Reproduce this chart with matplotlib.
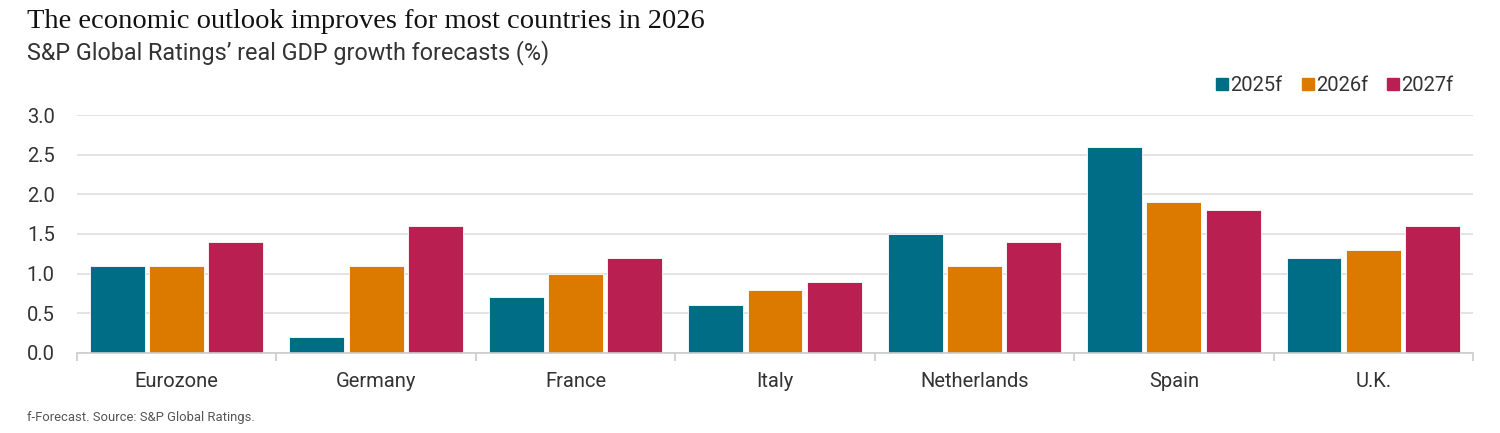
import numpy as np
import matplotlib
matplotlib.use('Agg')
import matplotlib.pyplot as plt
from matplotlib.lines import Line2D

# data
countries = ['Eurozone', 'Germany', 'France', 'Italy', 'Netherlands', 'Spain', 'U.K.']
f2025 = [1.1, 0.2, 0.7, 0.6, 1.5, 2.6, 1.2]
f2026 = [1.1, 1.1, 1.0, 0.8, 1.1, 1.9, 1.3]
f2027 = [1.4, 1.6, 1.2, 0.9, 1.4, 1.8, 1.6]
series_labels = ['2025f', '2026f', '2027f']
yticks = [0.0, 0.5, 1.0, 1.5, 2.0, 2.5, 3.0]

COLORS = ['#006D87', '#DC7A00', '#B91F50']
TEXT = '#333333'

plt.rcParams['font.family'] = ['Roboto', 'DejaVu Sans']

fig = plt.figure(figsize=(15, 4.33), dpi=100)
ax = fig.add_axes([0.0513, 0.1848, 0.9307, 0.5496])

x = np.arange(len(countries))
step = 0.297
width = 0.275
for i, (vals, lab) in enumerate(zip([f2025, f2026, f2027], series_labels)):
    ax.bar(x + (i - 1) * step, vals, width=width, color=COLORS[i],
           edgecolor='white', linewidth=0.6, label=lab, zorder=3)

ax.set_xlim(-0.5, len(countries) - 0.5)
ax.set_ylim(0, 3.0)
ax.set_yticks(yticks)
ax.set_yticklabels([f'{v:.1f}' for v in yticks])
ax.grid(axis='y', color='#dedede', linewidth=1.2, zorder=0)
ax.set_axisbelow(True)
for s in ['top', 'right', 'left']:
    ax.spines[s].set_visible(False)
ax.spines['bottom'].set_color('#cccccc')
ax.spines['bottom'].set_linewidth(1.2)
ax.spines['bottom'].set_zorder(4)
ax.tick_params(axis='y', length=0, pad=16, labelsize=14.5, labelcolor=TEXT)

# category labels centred, boundary ticks below baseline
ax.set_xticks(x)
ax.set_xticklabels(countries)
ax.tick_params(axis='x', length=0, pad=14, labelsize=14.5, labelcolor=TEXT)
ax.set_xticks(np.arange(len(countries) + 1) - 0.5, minor=True)
ax.tick_params(axis='x', which='minor', length=6, width=1.2, color='#cccccc')

handles = [Line2D([], [], marker='s', linestyle='none', markersize=8.5,
                  markerfacecolor=c, markeredgecolor=c) for c in COLORS]
fig.legend(handles, series_labels, loc='center right', bbox_to_anchor=(0.981, 0.803),
           ncol=3, frameon=False, fontsize=14.5, handlelength=0.5, handletextpad=0.15,
           columnspacing=1.0, labelcolor=TEXT)

fig.text(0.018, 0.935, 'The economic outlook improves for most countries in 2026',
         family=['Liberation Serif', 'DejaVu Serif'], fontsize=20.5, color='#111111',
         va='baseline')
fig.text(0.018, 0.862, 'S&P Global Ratings\u2019 real GDP growth forecasts (%)',
         fontsize=16.8, color=TEXT, va='baseline')
fig.text(0.018, 0.027, 'f-Forecast. Source: S&P Global Ratings.',
         fontsize=9.4, color='#555555', va='baseline')

fig.savefig('out.png', dpi=100)
